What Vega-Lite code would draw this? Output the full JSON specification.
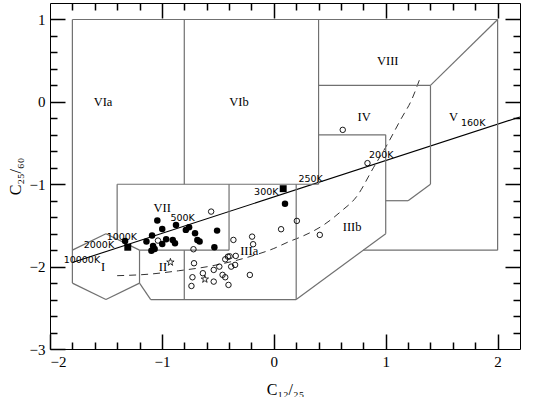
{
  "$schema": "https://vega.github.io/schema/vega-lite/v6.json",
  "width": 470,
  "height": 346,
  "autosize": "none",
  "padding": {"left": 50, "top": 3, "right": 14, "bottom": 48},
  "background": "white",
  "config": {
    "view": {"stroke": "black", "strokeWidth": 1},
    "axis": {"grid": false, "domain": false, "labelColor": "black", "titleColor": "black", "labelFont": "Liberation Serif", "titleFont": "Liberation Serif", "titleFontWeight": "normal"}
  },
  "datasets": {
    "segs": [
      {"x": -1.8, "y": 1, "x2": 2.0, "y2": 1},
      {"x": -1.8, "y": 1, "x2": -1.8, "y2": -2.2},
      {"x": -0.8, "y": 1, "x2": -0.8, "y2": -1},
      {"x": 0.4, "y": 1, "x2": 0.4, "y2": -1},
      {"x": 2.0, "y": 1, "x2": 2.0, "y2": -1.8},
      {"x": -1.4, "y": -1, "x2": 0.4, "y2": -1},
      {"x": -1.4, "y": -1, "x2": -1.4, "y2": -1.667},
      {"x": -1.8, "y": -1.8, "x2": -1.5, "y2": -1.6},
      {"x": -1.5, "y": -1.6, "x2": -1.2, "y2": -1.8},
      {"x": -1.2, "y": -1.8, "x2": -0.4, "y2": -1.8},
      {"x": -0.4, "y": -1, "x2": -0.4, "y2": -1.8},
      {"x": -1.2, "y": -1.8, "x2": -1.2, "y2": -2.2},
      {"x": -1.8, "y": -2.2, "x2": -1.5, "y2": -2.4},
      {"x": -1.5, "y": -2.4, "x2": -1.2, "y2": -2.2},
      {"x": -1.2, "y": -2.2, "x2": -1.1, "y2": -2.4},
      {"x": -1.1, "y": -2.4, "x2": 0.2, "y2": -2.4},
      {"x": -0.8, "y": -1.8, "x2": -0.8, "y2": -2.4},
      {"x": 0.2, "y": -1, "x2": 0.2, "y2": -2.4},
      {"x": 0.2, "y": -2.4, "x2": 1.0, "y2": -1.6},
      {"x": 1.0, "y": -1.6, "x2": 1.0, "y2": -0.4},
      {"x": 0.4, "y": -0.4, "x2": 1.0, "y2": -0.4},
      {"x": 0.4, "y": 0.2, "x2": 1.4, "y2": 0.2},
      {"x": 1.4, "y": 0.2, "x2": 2.0, "y2": 1.0},
      {"x": 1.4, "y": 0.2, "x2": 1.4, "y2": -1.0},
      {"x": 1.4, "y": -1.0, "x2": 1.2, "y2": -1.2},
      {"x": 1.2, "y": -1.2, "x2": 1.0, "y2": -1.2},
      {"x": 0.8, "y": -1.8, "x2": 2.0, "y2": -1.8}
    ],
    "curve": [
      {"x": -1.4, "y": -2.11},
      {"x": -1.1, "y": -2.09},
      {"x": -0.85, "y": -2.05},
      {"x": -0.55, "y": -1.99},
      {"x": -0.17, "y": -1.86},
      {"x": 0.0, "y": -1.78},
      {"x": 0.13, "y": -1.7},
      {"x": 0.25, "y": -1.635},
      {"x": 0.45, "y": -1.49},
      {"x": 0.6, "y": -1.33},
      {"x": 0.74, "y": -1.15},
      {"x": 0.89, "y": -0.8},
      {"x": 1.0, "y": -0.55},
      {"x": 1.14, "y": -0.2},
      {"x": 1.23, "y": 0.02},
      {"x": 1.31, "y": 0.3}
    ],
    "bb": [
      {"x": -1.8, "y": -1.95},
      {"x": 2.2, "y": -0.183}
    ],
    "pts": [
      {"x": -1.041, "y": -1.441, "type": "filled"},
      {"x": -0.997, "y": -1.542, "type": "filled"},
      {"x": -0.874, "y": -1.494, "type": "filled"},
      {"x": -0.786, "y": -1.554, "type": "filled"},
      {"x": -0.757, "y": -1.521, "type": "filled"},
      {"x": -0.704, "y": -1.594, "type": "filled"},
      {"x": -0.683, "y": -1.676, "type": "filled"},
      {"x": -0.663, "y": -1.696, "type": "filled"},
      {"x": -0.507, "y": -1.563, "type": "filled"},
      {"x": -0.531, "y": -1.765, "type": "filled"},
      {"x": -1.088, "y": -1.623, "type": "filled"},
      {"x": -1.138, "y": -1.696, "type": "filled"},
      {"x": -1.079, "y": -1.749, "type": "filled"},
      {"x": -1.094, "y": -1.806, "type": "filled"},
      {"x": -0.997, "y": -1.725, "type": "filled"},
      {"x": -0.962, "y": -1.667, "type": "filled"},
      {"x": -0.903, "y": -1.676, "type": "filled"},
      {"x": -0.883, "y": -1.716, "type": "filled"},
      {"x": -1.329, "y": -1.688, "type": "filled"},
      {"x": -1.065, "y": -1.785, "type": "filled"},
      {"x": 0.1, "y": -1.236, "type": "filled"},
      {"x": -1.305, "y": -1.765, "type": "square"},
      {"x": 0.084, "y": -1.054, "type": "square"},
      {"x": -0.924, "y": -1.947, "type": "star"},
      {"x": -0.616, "y": -2.153, "type": "star"},
      {"x": -0.56, "y": -1.332, "type": "open"},
      {"x": -1.035, "y": -1.684, "type": "open"},
      {"x": -0.718, "y": -1.789, "type": "open"},
      {"x": -0.361, "y": -1.676, "type": "open"},
      {"x": -0.194, "y": -1.636, "type": "open"},
      {"x": -0.185, "y": -1.728, "type": "open"},
      {"x": 0.065, "y": -1.546, "type": "open"},
      {"x": 0.206, "y": -1.445, "type": "open"},
      {"x": 0.411, "y": -1.615, "type": "open"},
      {"x": 0.616, "y": -0.34, "type": "open"},
      {"x": 0.837, "y": -0.744, "type": "open"},
      {"x": -0.713, "y": -1.959, "type": "open"},
      {"x": -0.727, "y": -2.129, "type": "open"},
      {"x": -0.736, "y": -2.235, "type": "open"},
      {"x": -0.634, "y": -2.08, "type": "open"},
      {"x": -0.537, "y": -2.04, "type": "open"},
      {"x": -0.537, "y": -2.182, "type": "open"},
      {"x": -0.487, "y": -2.0, "type": "open"},
      {"x": -0.458, "y": -2.1, "type": "open"},
      {"x": -0.434, "y": -1.911, "type": "open"},
      {"x": -0.41, "y": -1.879, "type": "open"},
      {"x": -0.395, "y": -1.875, "type": "open"},
      {"x": -0.434, "y": -2.129, "type": "open"},
      {"x": -0.405, "y": -2.222, "type": "open"},
      {"x": -0.381, "y": -2.0, "type": "open"},
      {"x": -0.346, "y": -1.979, "type": "open"},
      {"x": -0.34, "y": -1.87, "type": "open"},
      {"x": -0.214, "y": -2.101, "type": "open"}
    ],
    "labels": [
      {"x": -1.526, "y": 0.004, "text": "VIa", "kind": "region"},
      {"x": -0.311, "y": 0.004, "text": "VIb", "kind": "region"},
      {"x": 1.018, "y": 0.49, "text": "VIII", "kind": "region"},
      {"x": 0.807, "y": -0.185, "text": "IV", "kind": "region"},
      {"x": 1.606, "y": -0.178, "text": "V", "kind": "region"},
      {"x": 0.7, "y": -1.514, "text": "IIIb", "kind": "region"},
      {"x": -0.22, "y": -1.806, "text": "IIIa", "kind": "region"},
      {"x": -0.997, "y": -1.29, "text": "VII", "kind": "region"},
      {"x": -0.991, "y": -2.0, "text": "II", "kind": "region"},
      {"x": -1.526, "y": -2.0, "text": "I", "kind": "region"},
      {"x": 1.782, "y": -0.259, "text": "160K", "kind": "temp"},
      {"x": 0.96, "y": -0.643, "text": "200K", "kind": "temp"},
      {"x": 0.329, "y": -0.935, "text": "250K", "kind": "temp"},
      {"x": -0.067, "y": -1.096, "text": "300K", "kind": "temp"},
      {"x": -0.815, "y": -1.412, "text": "500K", "kind": "temp"},
      {"x": -1.358, "y": -1.643, "text": "1000K", "kind": "temp"},
      {"x": -1.563, "y": -1.737, "text": "2000K", "kind": "temp"},
      {"x": -1.715, "y": -1.92, "text": "10000K", "kind": "temp"}
    ]
  },
  "layer": [
    {
      "data": {"name": "bb"},
      "mark": {"type": "line", "color": "black", "strokeWidth": 1.1, "clip": true},
      "encoding": {
        "x": {"field": "x", "type": "quantitative", "scale": {"domain": [-2, 2.2], "nice": false, "zero": false},
          "axis": {"orient": "bottom", "values": [-2, -1.8, -1.6, -1.4, -1.2, -1, -0.8, -0.6, -0.4, -0.2, 0, 0.2, 0.4, 0.6, 0.8, 1, 1.2, 1.4, 1.6, 1.8, 2],
            "tickColor": "black", "tickWidth": 1.5, "labelOverlap": false,
            "tickSize": {"condition": {"test": "abs(datum.value - round(datum.value)) < 0.001", "value": -15}, "value": -7},
            "labelPadding": 20, "labelFontSize": 15,
            "labelExpr": "abs(datum.value - round(datum.value)) < 0.001 ? replace(format(datum.value, 'd'), '-', '−') : ''",
            "title": "C₁₂/₂₅", "titleFontSize": 16, "titlePadding": 4}},
        "y": {"field": "y", "type": "quantitative", "scale": {"domain": [-3, 1.2], "nice": false, "zero": false},
          "axis": {"orient": "left", "values": [-3, -2.8, -2.6, -2.4, -2.2, -2, -1.8, -1.6, -1.4, -1.2, -1, -0.8, -0.6, -0.4, -0.2, 0, 0.2, 0.4, 0.6, 0.8, 1],
            "tickColor": "black", "tickWidth": 1.5, "labelOverlap": false,
            "tickSize": {"condition": {"test": "abs(datum.value - round(datum.value)) < 0.001", "value": -15}, "value": -7},
            "labelPadding": 20, "labelFontSize": 15,
            "labelExpr": "abs(datum.value - round(datum.value)) < 0.001 ? replace(format(datum.value, 'd'), '-', '−') : ''",
            "title": "C₂₅/₆₀", "titleFontSize": 16, "titlePadding": 6}}
      }
    },
    {
      "data": {"name": "curve"},
      "mark": {"type": "line", "color": "#333", "strokeWidth": 1, "strokeDash": [7, 5], "interpolate": "monotone", "clip": true},
      "encoding": {
        "x": {"field": "x", "type": "quantitative",
          "axis": {"orient": "top", "values": [-1.8, -1.6, -1.4, -1.2, -1, -0.8, -0.6, -0.4, -0.2, 0, 0.2, 0.4, 0.6, 0.8, 1, 1.2, 1.4, 1.6, 1.8, 2],
            "tickColor": "black", "tickWidth": 1.5,
            "tickSize": {"condition": {"test": "abs(datum.value - round(datum.value)) < 0.001", "value": -15}, "value": -7},
            "labels": false, "title": null}},
        "y": {"field": "y", "type": "quantitative",
          "axis": {"orient": "right", "values": [-2.8, -2.6, -2.4, -2.2, -2, -1.8, -1.6, -1.4, -1.2, -1, -0.8, -0.6, -0.4, -0.2, 0, 0.2, 0.4, 0.6, 0.8, 1],
            "tickColor": "black", "tickWidth": 1.5,
            "tickSize": {"condition": {"test": "abs(datum.value - round(datum.value)) < 0.001", "value": -15}, "value": -7},
            "labels": false, "title": null}}
      }
    },
    {
      "data": {"name": "segs"},
      "mark": {"type": "rule", "color": "#707070", "strokeWidth": 1.2},
      "encoding": {
        "x": {"field": "x", "type": "quantitative", "axis": null},
        "y": {"field": "y", "type": "quantitative", "axis": null},
        "x2": {"field": "x2"},
        "y2": {"field": "y2"}
      }
    },
    {
      "data": {"name": "pts"},
      "transform": [{"filter": "datum.type == 'filled'"}],
      "mark": {"type": "point", "shape": "circle", "filled": true, "color": "black", "size": 42, "opacity": 1},
      "encoding": {
        "x": {"field": "x", "type": "quantitative", "axis": null},
        "y": {"field": "y", "type": "quantitative", "axis": null}
      }
    },
    {
      "data": {"name": "pts"},
      "transform": [{"filter": "datum.type == 'open'"}],
      "mark": {"type": "point", "shape": "circle", "filled": false, "stroke": "black", "strokeWidth": 0.9, "size": 30, "opacity": 1},
      "encoding": {
        "x": {"field": "x", "type": "quantitative", "axis": null},
        "y": {"field": "y", "type": "quantitative", "axis": null}
      }
    },
    {
      "data": {"name": "pts"},
      "transform": [{"filter": "datum.type == 'square'"}],
      "mark": {"type": "point", "shape": "square", "filled": true, "color": "black", "size": 48, "opacity": 1},
      "encoding": {
        "x": {"field": "x", "type": "quantitative", "axis": null},
        "y": {"field": "y", "type": "quantitative", "axis": null}
      }
    },
    {
      "data": {"name": "pts"},
      "transform": [{"filter": "datum.type == 'star'"}],
      "mark": {"type": "point", "shape": "M0,-1L0.224,-0.309L0.951,-0.309L0.363,0.118L0.588,0.809L0,0.382L-0.588,0.809L-0.363,0.118L-0.951,-0.309L-0.224,-0.309Z", "filled": false, "stroke": "black", "strokeWidth": 0.8, "size": 60, "opacity": 1},
      "encoding": {
        "x": {"field": "x", "type": "quantitative", "axis": null},
        "y": {"field": "y", "type": "quantitative", "axis": null}
      }
    },
    {
      "data": {"name": "labels"},
      "transform": [{"filter": "datum.kind == 'region'"}],
      "mark": {"type": "text", "font": "Liberation Serif", "fontSize": 12.5, "color": "black", "align": "center", "baseline": "middle"},
      "encoding": {
        "x": {"field": "x", "type": "quantitative", "axis": null},
        "y": {"field": "y", "type": "quantitative", "axis": null},
        "text": {"field": "text"}
      }
    },
    {
      "data": {"name": "labels"},
      "transform": [{"filter": "datum.kind == 'temp'"}],
      "mark": {"type": "text", "font": "DejaVu Sans", "fontSize": 9.5, "color": "black", "align": "center", "baseline": "middle"},
      "encoding": {
        "x": {"field": "x", "type": "quantitative", "axis": null},
        "y": {"field": "y", "type": "quantitative", "axis": null},
        "text": {"field": "text"}
      }
    }
  ],
  "resolve": {"axis": {"x": "independent", "y": "independent"}}
}
